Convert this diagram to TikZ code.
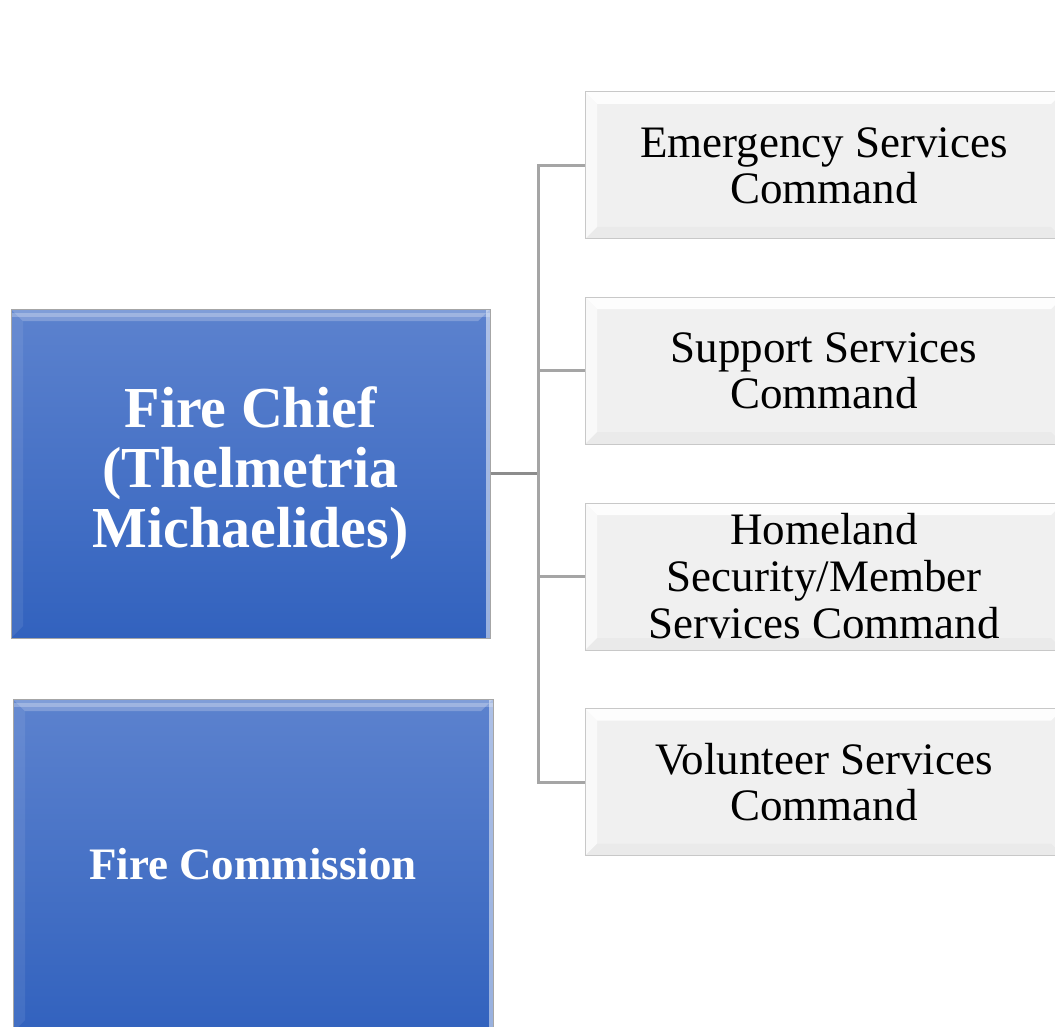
\documentclass[tikz,border=0pt]{standalone}
\usepackage{fontspec}
\setmainfont{Liberation Serif}
\definecolor{blueTop}{RGB}{92,130,206}
\definecolor{blueBot}{RGB}{50,98,190}
\definecolor{boxGray}{RGB}{240,240,240}
\definecolor{boxEdge}{RGB}{200,200,200}
\definecolor{lineGray}{RGB}{165,165,165}
\begin{document}
\begin{tikzpicture}[x=1pt,y=1pt,
  bluebox/.style={draw=gray!70, line width=1pt, top color=blueTop, bottom color=blueBot,
    text=white, align=center, inner sep=0pt,
    path picture={
      \fill[white,opacity=0.22] (path picture bounding box.north west) -- (path picture bounding box.north east)
        -- ([xshift=-12pt,yshift=-12pt]path picture bounding box.north east) -- ([xshift=12pt,yshift=-12pt]path picture bounding box.north west) -- cycle;
      \fill[white,opacity=0.25] ([yshift=-4pt]path picture bounding box.north west) rectangle ([yshift=-8pt]path picture bounding box.north east);
      \fill[white,opacity=0.08] (path picture bounding box.north west) -- ([xshift=12pt,yshift=-12pt]path picture bounding box.north west)
        -- ([xshift=12pt,yshift=12pt]path picture bounding box.south west) -- (path picture bounding box.south west) -- cycle;
      \fill[white,opacity=0.5] ([xshift=-4pt]path picture bounding box.north east) rectangle (path picture bounding box.south east);
    }},
  graybox/.style={draw=boxEdge, line width=1pt, fill=boxGray, align=center, inner sep=0pt,
    minimum width=478pt, minimum height=147pt,
    font=\fontsize{45pt}{46pt}\selectfont,
    path picture={
      \fill[white,opacity=0.9] (path picture bounding box.north west) -- (path picture bounding box.north east)
        -- ([xshift=-12pt,yshift=-12pt]path picture bounding box.north east) -- ([xshift=12pt,yshift=-12pt]path picture bounding box.north west) -- cycle;
      \fill[white,opacity=0.6] (path picture bounding box.north west) -- ([xshift=12pt,yshift=-12pt]path picture bounding box.north west)
        -- ([xshift=12pt,yshift=12pt]path picture bounding box.south west) -- (path picture bounding box.south west) -- cycle;
      \fill[black,opacity=0.025] (path picture bounding box.south west) -- (path picture bounding box.south east)
        -- ([xshift=-12pt,yshift=12pt]path picture bounding box.south east) -- ([xshift=12pt,yshift=12pt]path picture bounding box.south west) -- cycle;
    }},
  conn/.style={draw=lineGray, line width=3pt}
]
\useasboundingbox (0,0) rectangle (1055,-1027);
\node[bluebox, minimum width=479pt, minimum height=329pt, font=\bfseries\fontsize{58pt}{60pt}\selectfont] (fc) at (250.5,-473.5) {Fire Chief\\(Thelmetria\\Michaelides)};
\node[bluebox, minimum width=480pt, minimum height=333pt, font=\bfseries\fontsize{45pt}{46pt}\selectfont] (fcom) at (253,-865.5) {\raisebox{3pt}{Fire Commission}};
\node[graybox] (es) at (824,-165.5) {Emergency Services\\Command};
\node[graybox] (ss) at (824,-370.5) {Support Services\\Command};
\node[graybox, font=\fontsize{45pt}{47pt}\selectfont] (hs) at (824,-576.5) {Homeland\\Security/Member\\Services Command};
\node[graybox] (vs) at (824,-782) {Volunteer Services\\Command};
\coordinate (j) at (538,-473.5);
\draw[draw=gray!90, line width=3pt] (fc.east) -- (j);
\draw[conn] (j) |- (es.west);
\draw[conn] (j) |- (ss.west);
\draw[conn] (j) |- (hs.west);
\draw[conn] (j) |- (vs.west);
\end{tikzpicture}
\end{document}
